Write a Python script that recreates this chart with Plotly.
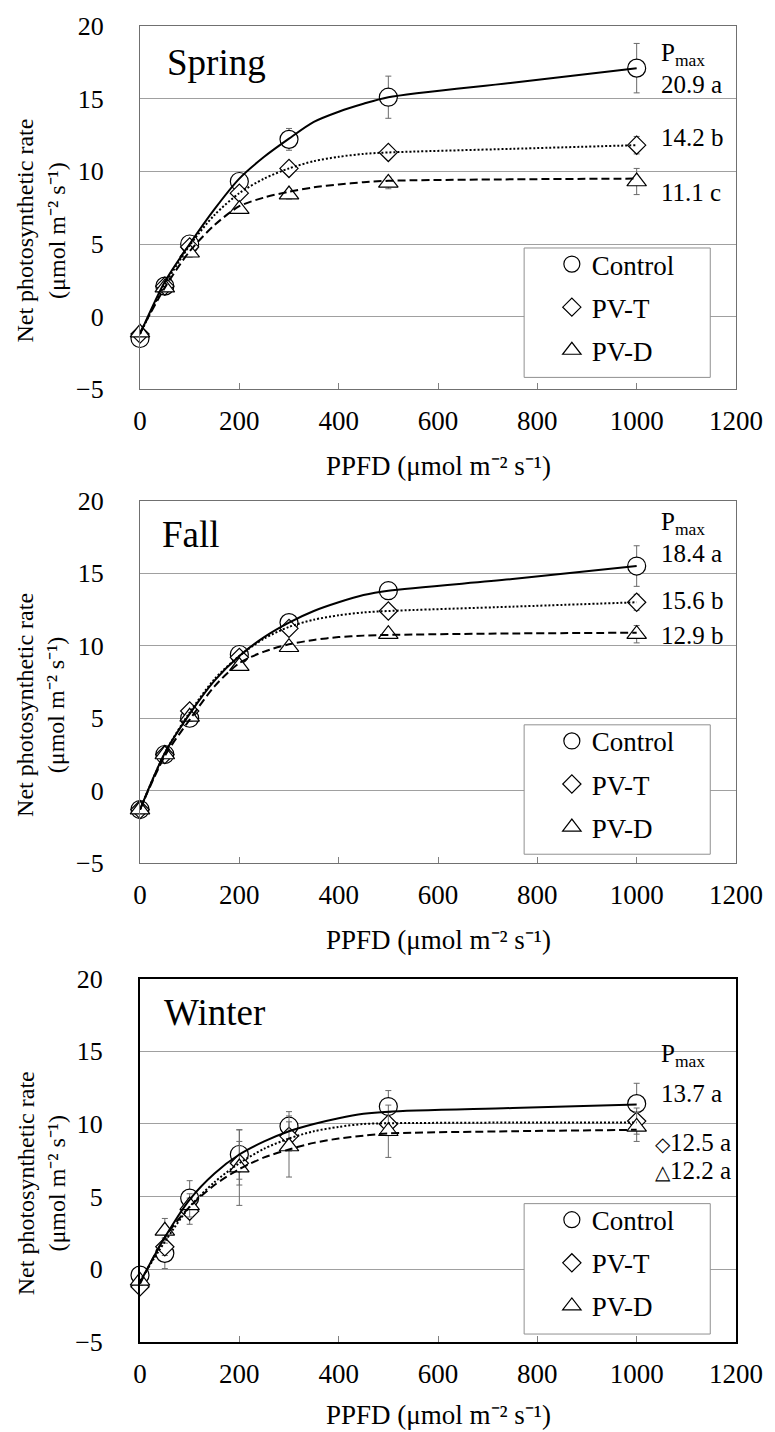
import plotly.graph_objects as go

# ---------------- data ----------------
ppfd = [0, 50, 100, 200, 300, 500, 1000]
fit_ppfd = [0, 50, 100, 150, 200, 250, 300, 350, 400, 450, 500, 750, 1000]

spring_control = [-1.5, 2.1, 5.0, 9.3, 12.2, 15.1, 17.1]
spring_control_se = [0.3, 0.3, 0.3, 0.3, 0.75, 1.45, 1.7]
spring_pvt = [-1.2, 2.1, 4.8, 8.5, 10.2, 11.3, 11.8]
spring_pvt_se = [0.2, 0.2, 0.3, 0.3, 0.3, 0.3, 0.6]
spring_pvd = [-1.1, 2.0, 4.4, 7.4, 8.4, 9.2, 9.3]
spring_pvd_se = [0.2, 0.2, 0.3, 0.3, 0.3, 0.4, 0.9]
spring_fit_control = [-1.2, 2.4, 5.0, 7.4, 9.5, 11.0, 12.25, 13.4, 14.1, 14.65, 15.1, 16.1, 17.1]
spring_fit_pvt = [-1.2, 2.2, 4.9, 7.0, 8.5, 9.5, 10.2, 10.7, 11.0, 11.2, 11.3, 11.55, 11.8]
spring_fit_pvd = [-1.1, 2.0, 4.5, 6.3, 7.6, 8.2, 8.6, 8.9, 9.1, 9.25, 9.35, 9.45, 9.5]

fall_control = [-1.3, 2.5, 5.0, 9.4, 11.6, 13.8, 15.5]
fall_control_se = [0.2, 0.3, 0.3, 0.3, 0.3, 0.3, 1.4]
fall_pvt = [-1.3, 2.5, 5.5, 9.2, 11.2, 12.4, 13.0]
fall_pvt_se = [0.2, 0.2, 0.3, 0.3, 0.3, 0.3, 0.55]
fall_pvd = [-1.3, 2.5, 5.1, 8.6, 9.9, 10.8, 10.8]
fall_pvd_se = [0.2, 0.2, 0.3, 0.3, 0.3, 0.3, 0.6]
fall_fit_control = [-1.3, 2.6, 5.3, 7.6, 9.3, 10.6, 11.6, 12.4, 13.0, 13.5, 13.8, 14.6, 15.5]
fall_fit_pvt = [-1.3, 2.6, 5.4, 7.7, 9.3, 10.5, 11.3, 11.8, 12.1, 12.3, 12.4, 12.7, 13.0]
fall_fit_pvd = [-1.3, 2.4, 4.9, 7.2, 8.8, 9.6, 10.1, 10.4, 10.6, 10.7, 10.75, 10.85, 10.9]

winter_control = [-0.4, 1.1, 4.9, 7.9, 9.85, 11.2, 11.4]
winter_control_se = [0.3, 1.05, 1.2, 1.7, 1.0, 1.1, 1.4]
winter_pvt = [-1.2, 1.55, 4.0, 7.3, 9.15, 10.0, 10.2]
winter_pvt_se = [0.3, 0.6, 0.9, 1.5, 1.0, 0.8, 0.9]
winter_pvd = [-0.8, 2.65, 4.4, 7.0, 8.45, 9.5, 9.8]
winter_pvd_se = [0.3, 0.85, 0.8, 2.6, 2.1, 1.8, 1.0]
winter_fit_control = [-0.9, 2.2, 4.8, 6.6, 7.9, 8.8, 9.5, 10.0, 10.4, 10.7, 10.85, 11.1, 11.35]
winter_fit_pvt = [-0.8, 1.9, 4.3, 6.0, 7.3, 8.3, 9.0, 9.5, 9.8, 10.0, 10.05, 10.1, 10.1]
winter_fit_pvd = [-1.0, 2.2, 4.3, 5.8, 6.9, 7.7, 8.25, 8.7, 9.0, 9.2, 9.35, 9.5, 9.6]

seasons = ["Spring", "Fall", "Winter"]
treatments = ["Control", "PV-T", "PV-D"]
pmax_labels = {
    "Spring": ["20.9 a", "14.2 b", "11.1 c"],
    "Fall": ["18.4 a", "15.6 b", "12.9 b"],
    "Winter": ["13.7 a", "\u25C712.5 a", "\u25B312.2 a"],
}
x_ticks = [0, 200, 400, 600, 800, 1000, 1200]
y_ticks = [-5, 0, 5, 10, 15, 20]

points = {
    "Spring": [(spring_control, spring_control_se), (spring_pvt, spring_pvt_se), (spring_pvd, spring_pvd_se)],
    "Fall": [(fall_control, fall_control_se), (fall_pvt, fall_pvt_se), (fall_pvd, fall_pvd_se)],
    "Winter": [(winter_control, winter_control_se), (winter_pvt, winter_pvt_se), (winter_pvd, winter_pvd_se)],
}
fits = {
    "Spring": [spring_fit_control, spring_fit_pvt, spring_fit_pvd],
    "Fall": [fall_fit_control, fall_fit_pvt, fall_fit_pvd],
    "Winter": [winter_fit_control, winter_fit_pvt, winter_fit_pvd],
}

# ---------------- style ----------------
FONT = "Liberation Serif"
W, H = 775, 1432
ML, MR, MT, MB = 140, 33, 20, 90
PH = H - MT - MB
PW = W - ML - MR

def py2paper(py):
    return (H - MB - py) / PH

def px2paper(px):
    return (px - ML) / PW

panel_px = [(20, 385), (497, 861), (977, 1342)]  # top, bottom pixel rows
symbols = ["circle", "diamond", "triangle-up"]
msize = [18, 14, 17]
dashes = ["solid", "2px,2px", "8px,4px"]

fig = go.Figure()

for i, season in enumerate(seasons):
    xa = "x" if i == 0 else f"x{i+1}"
    ya = "y" if i == 0 else f"y{i+1}"
    leg = "legend" if i == 0 else f"legend{i+1}"
    for j, tr in enumerate(treatments):
        vals, se = points[season][j]
        fig.add_trace(go.Scatter(
            x=ppfd, y=vals, mode="markers", name=tr,
            xaxis=xa, yaxis=ya, legend=leg, legendgroup=f"{season}{tr}",
            cliponaxis=False,
            marker=dict(symbol=symbols[j], size=msize[j], color="white",
                        line=dict(color="black", width=1.2)),
            error_y=dict(type="data", array=se, visible=True, color="#6a6a6a",
                         thickness=1, width=3),
            showlegend=True,
        ))
    for j, tr in enumerate(treatments):
        fig.add_trace(go.Scatter(
            x=fit_ppfd, y=fits[season][j], mode="lines",
            xaxis=xa, yaxis=ya, showlegend=False,
            line=dict(color="black", width=2, dash=dashes[j], shape="spline", smoothing=0.8),
            hoverinfo="skip",
        ))

layout = dict(
    width=W, height=H,
    margin=dict(l=ML, r=MR, t=MT, b=MB),
    paper_bgcolor="white", plot_bgcolor="white",
    font=dict(family=FONT, size=26, color="black"),
)

shapes = []
annotations = []
legend_box = [(243, 373), (722, 852), (1203, 1334)]

for i, season in enumerate(seasons):
    top, bot = panel_px[i]
    sfx = "" if i == 0 else str(i + 1)
    frame_col = "#000000" if i == 2 else "#707070"
    frame_w = 2 if i == 2 else 1.2
    layout["xaxis" + sfx] = dict(
        domain=[0, 1], anchor="y" + sfx, range=[0, 1200],
        tickvals=x_ticks, ticks="inside", ticklen=6, tickcolor="#808080",
        showgrid=False, zeroline=False, showline=True, linecolor=frame_col,
        linewidth=frame_w, mirror=True, ticklabelstandoff=7,
        tickfont=dict(family=FONT, size=27, color="black"),
    )
    layout["yaxis" + sfx] = dict(
        domain=[py2paper(bot), py2paper(top)], anchor="x" + sfx, range=[-5, 20],
        tickvals=y_ticks, ticks="", showgrid=True, gridcolor="#a0a0a0", gridwidth=1,
        zeroline=False, showline=True, linecolor=frame_col, linewidth=frame_w,
        mirror=True, ticklabelstandoff=30,
        tickfont=dict(family=FONT, size=26, color="black"),
    )
    # legend
    lt, lb = legend_box[i]
    shapes.append(dict(type="rect", xref="paper", yref="paper",
                       x0=px2paper(528), x1=px2paper(716),
                       y0=py2paper(lb), y1=py2paper(lt),
                       fillcolor="white", line=dict(color="#909090", width=1),
                       layer="above"))
    layout["legend" if i == 0 else f"legend{i+1}"] = dict(
        x=px2paper(556), y=py2paper(lt - 8), xanchor="left", yanchor="top",
        bgcolor="rgba(0,0,0,0)", borderwidth=0, traceorder="grouped",
        tracegroupgap=5, font=dict(family=FONT, size=27, color="black"),
        itemwidth=30,
    )
    xr = "x" + sfx
    yr = "y" + sfx
    # season label
    lx = [50, 40, 44][i]
    annotations.append(dict(text=season, x=lx, y=[17.47, 17.67, 17.67][i], xref=xr, yref=yr,
                            xanchor="left", yanchor="middle", showarrow=False,
                            font=dict(family=FONT, size=37, color="black")))
    # Pmax labels
    pys = {"Spring": [18.05, 16.0, 12.3, 8.55],
           "Fall": [18.45, 16.35, 13.1, 10.7],
           "Winter": [14.7, 12.1, 8.7, 6.8]}[season]
    annotations.append(dict(text="P<sub>max</sub>", x=1045, y=pys[0], xref=xr, yref=yr,
                            xanchor="left", yanchor="middle", showarrow=False,
                            font=dict(family=FONT, size=25, color="black")))
    for k, lab in enumerate(pmax_labels[season]):
        xx = 1045
        if season == "Winter" and k > 0:
            sym, rest = lab[0], lab[1:]
            txt = f"<span style='font-size:20px'>{sym}</span>{rest}"
            xx = 1032
        else:
            txt = lab
        annotations.append(dict(text=txt, x=xx, y=pys[k + 1], xref=xr, yref=yr,
                                xanchor="left", yanchor="middle", showarrow=False,
                                font=dict(family=FONT, size=25, color="black")))
    # axis titles
    annotations.append(dict(text="PPFD (\u03bcmol m\u207b\u00b2 s\u207b\u00b9)",
                            x=0.5, y=py2paper([462, 938, 1415][i]), xref="paper", yref="paper",
                            xanchor="center", yanchor="middle", showarrow=False,
                            font=dict(family=FONT, size=27, color="black")))
    annotations.append(dict(text="Net photosynthetic rate<br>(\u03bcmol m\u207b\u00b2 s\u207b\u00b9)",
                            x=px2paper(40), y=py2paper((top + bot) / 2 + 23),
                            xref="paper", yref="paper", textangle=-90,
                            xanchor="center", yanchor="middle", showarrow=False,
                            font=dict(family=FONT, size=24, color="black")))

layout["shapes"] = shapes
layout["annotations"] = annotations
fig.update_layout(**layout)
fig.write_html("out.html")
